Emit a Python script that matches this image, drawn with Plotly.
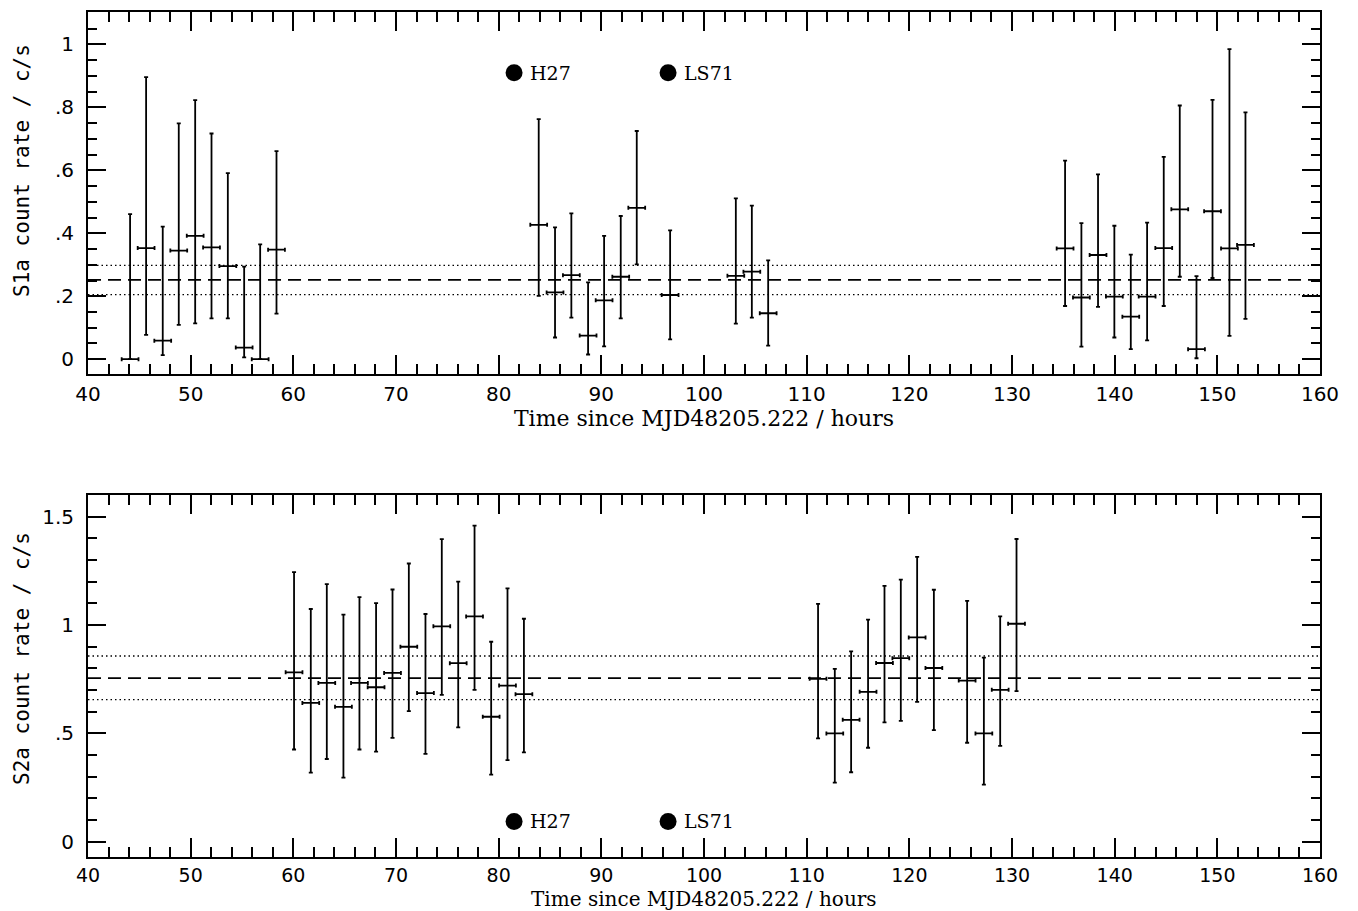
import numpy as np
import plotly.graph_objects as go

# ---------------- data ----------------
# Top panel: S1a
t_s1 = [44.10, 45.66, 47.28, 48.84, 50.44, 52.03, 53.62, 55.21, 56.77, 58.36,
        83.90, 85.49, 87.08, 88.71, 90.27, 91.89, 93.45, 96.70, 103.10, 104.66, 106.25,
        135.17, 136.76, 138.38, 139.97, 141.57, 143.16, 144.78, 146.34, 147.97, 149.53, 151.18, 152.74]
rate_s1 = [0.000, 0.353, 0.059, 0.345, 0.392, 0.355, 0.296, 0.037, 0.000, 0.348,
           0.427, 0.212, 0.267, 0.075, 0.187, 0.262, 0.481, 0.204, 0.265, 0.278, 0.146,
           0.352, 0.196, 0.331, 0.199, 0.135, 0.199, 0.353, 0.476, 0.032, 0.470, 0.352, 0.363]
upper_s1 = [0.461, 0.896, 0.421, 0.749, 0.823, 0.717, 0.591, 0.294, 0.365, 0.661,
            0.763, 0.419, 0.463, 0.244, 0.392, 0.455, 0.725, 0.409, 0.511, 0.488, 0.314,
            0.631, 0.432, 0.587, 0.424, 0.332, 0.434, 0.643, 0.806, 0.264, 0.824, 0.985, 0.784]
lower_s1 = [0.000, 0.077, 0.013, 0.109, 0.114, 0.130, 0.130, 0.006, 0.000, 0.145,
            0.201, 0.069, 0.132, 0.015, 0.041, 0.130, 0.301, 0.063, 0.113, 0.132, 0.043,
            0.169, 0.040, 0.166, 0.069, 0.032, 0.060, 0.169, 0.262, 0.003, 0.258, 0.074, 0.128]
mean_s1 = 0.252
band_s1 = [0.205, 0.298]

# Bottom panel: S2a
t_s2 = [60.07, 61.70, 63.26, 64.88, 66.44, 68.06, 69.66, 71.25, 72.87, 74.46, 76.06, 77.65, 79.27, 80.86, 82.46,
        111.11, 112.74, 114.33, 115.98, 117.58, 119.17, 120.76, 122.39, 125.63, 127.26, 128.85, 130.44]
rate_s2 = [0.782, 0.641, 0.733, 0.623, 0.733, 0.713, 0.779, 0.900, 0.686, 0.994, 0.824, 1.040, 0.577, 0.721, 0.681,
           0.752, 0.500, 0.563, 0.692, 0.825, 0.847, 0.943, 0.802, 0.744, 0.500, 0.701, 1.006]
upper_s2 = [1.244, 1.074, 1.189, 1.048, 1.129, 1.101, 1.164, 1.284, 1.051, 1.396, 1.200, 1.459, 0.923, 1.169, 1.029,
            1.098, 0.798, 0.879, 1.025, 1.181, 1.210, 1.315, 1.163, 1.112, 0.850, 1.040, 1.397]
lower_s2 = [0.426, 0.319, 0.382, 0.296, 0.426, 0.416, 0.480, 0.603, 0.406, 0.678, 0.528, 0.701, 0.310, 0.377, 0.413,
            0.477, 0.273, 0.321, 0.434, 0.551, 0.558, 0.646, 0.515, 0.457, 0.264, 0.443, 0.695]
mean_s2 = 0.755
band_s2 = [0.656, 0.857]

bin_halfwidth = 0.82  # hours

events_t = [81.5, 96.5]
events_label = ["H27", "LS71"]
event_y_s1 = 0.910
event_y_s2 = 0.094

x_title = "Time since MJD48205.222 / hours"
x_range = [40, 160]
x_ticks = [40, 50, 60, 70, 80, 90, 100, 110, 120, 130, 140, 150, 160]
y1_ticks = [0, 0.2, 0.4, 0.6, 0.8, 1]
y1_text = ["0", ".2", ".4", ".6", ".8", "1"]
y2_ticks = [0, 0.5, 1, 1.5]
y2_text = ["0", ".5", "1", "1.5"]

# ---------------- figure ----------------
fig = go.Figure()

def add_panel(xa, ya, t, r, up, lo, mean, band, ev_y):
    r = np.array(r); up = np.array(up); lo = np.array(lo)
    for yv in band:
        fig.add_trace(go.Scatter(x=x_range, y=[yv, yv], mode="lines", xaxis=xa, yaxis=ya,
                                 line=dict(color="black", width=1.4, dash="1.5px,3px"),
                                 showlegend=False, hoverinfo="skip"))
    fig.add_trace(go.Scatter(x=x_range, y=[mean, mean], mode="lines", xaxis=xa, yaxis=ya,
                             line=dict(color="black", width=1.8, dash="13px,7px"),
                             showlegend=False, hoverinfo="skip"))
    fig.add_trace(go.Scatter(
        x=t, y=r, mode="markers", xaxis=xa, yaxis=ya,
        marker=dict(size=1, color="black"),
        error_y=dict(type="data", symmetric=False, array=up - r, arrayminus=r - lo,
                     color="black", thickness=1.8, width=2),
        error_x=dict(type="constant", value=bin_halfwidth, color="black", thickness=1.8, width=2),
        showlegend=False))
    fig.add_trace(go.Scatter(x=events_t, y=[ev_y] * len(events_t), mode="markers", xaxis=xa, yaxis=ya,
                             marker=dict(size=17, color="black"), showlegend=False))
    for tx, lab in zip(events_t, events_label):
        fig.add_annotation(x=tx, y=ev_y, xref=xa, yref=ya.replace("axis", ""), text=lab,
                           showarrow=False, xanchor="left", yanchor="middle", xshift=14,
                           font=dict(family="DejaVu Serif", size=19, color="black"))

add_panel("x", "y", t_s1, rate_s1, upper_s1, lower_s1, mean_s1, band_s1, event_y_s1)
add_panel("x2", "y2", t_s2, rate_s2, upper_s2, lower_s2, mean_s2, band_s2, event_y_s2)

tickfont = dict(family="DejaVu Sans", size=20, color="black")
titlefont = dict(family="DejaVu Serif", size=22, color="black")

def xaxis_cfg(anchor, with_title, tsize, standoff):
    d = dict(range=x_range, anchor=anchor, domain=[0, 1], tickvals=x_ticks,
             ticks="inside", ticklen=19, tickwidth=2, tickcolor="black",
             minor=dict(dtick=2, ticks="inside", ticklen=10, tickwidth=2, tickcolor="black", showgrid=False),
             showline=True, linewidth=2, linecolor="black", mirror="ticks",
             showgrid=False, zeroline=False,
             tickfont=dict(family="DejaVu Sans", size=tsize, color="black"),
             ticklabelstandoff=standoff, automargin=False)
    if with_title:
        d["title"] = dict(text=x_title, font=titlefont, standoff=0)
    return d

def yaxis_cfg(anchor, rng, dom, tv, tt, minor_dt):
    return dict(range=rng, anchor=anchor, domain=dom, tickvals=tv, ticktext=tt,
                ticks="inside", ticklen=18, tickwidth=2, tickcolor="black",
                minor=dict(dtick=minor_dt, tick0=0, ticks="inside", ticklen=9, tickwidth=2, tickcolor="black", showgrid=False),
                showline=True, linewidth=2, linecolor="black", mirror="ticks",
                showgrid=False, zeroline=False, tickfont=tickfont, ticklabelstandoff=8,
                automargin=False)

# page body has an 8px margin; margins below compensate so the frames land where the reference has them
fig.update_layout(
    width=1358, height=911,
    margin=dict(l=80, r=46, t=4, b=62),
    paper_bgcolor="white", plot_bgcolor="white",
    xaxis=xaxis_cfg("y", True, 20, 1),
    yaxis=yaxis_cfg("x", [-0.047, 1.103], [0.5716, 1.0], y1_ticks, y1_text, 0.05),
    xaxis2=xaxis_cfg("y2", False, 19, 0),
    yaxis2=yaxis_cfg("x2", [-0.07, 1.6], [0.0, 0.4284], y2_ticks, y2_text, 0.1),
    showlegend=False,
)

# bottom x-axis title placed as an annotation so it stays inside the window
fig.add_annotation(text=x_title, xref="paper", yref="paper", x=0.5, y=-0.0645,
                   xanchor="center", yanchor="bottom", showarrow=False, borderpad=0,
                   font=dict(family="DejaVu Serif", size=20, color="black"))

ytitle_font = dict(family="DejaVu Sans Mono", size=21, color="black")
fig.add_annotation(text="S1a count rate / c/s", xref="paper", yref="paper", x=-0.0536, y=0.813,
                   textangle=-90, showarrow=False, xanchor="center", yanchor="middle", font=ytitle_font)
fig.add_annotation(text="S2a count rate / c/s", xref="paper", yref="paper", x=-0.0536, y=0.2355,
                   textangle=-90, showarrow=False, xanchor="center", yanchor="middle", font=ytitle_font)

fig.write_html("out.html")
